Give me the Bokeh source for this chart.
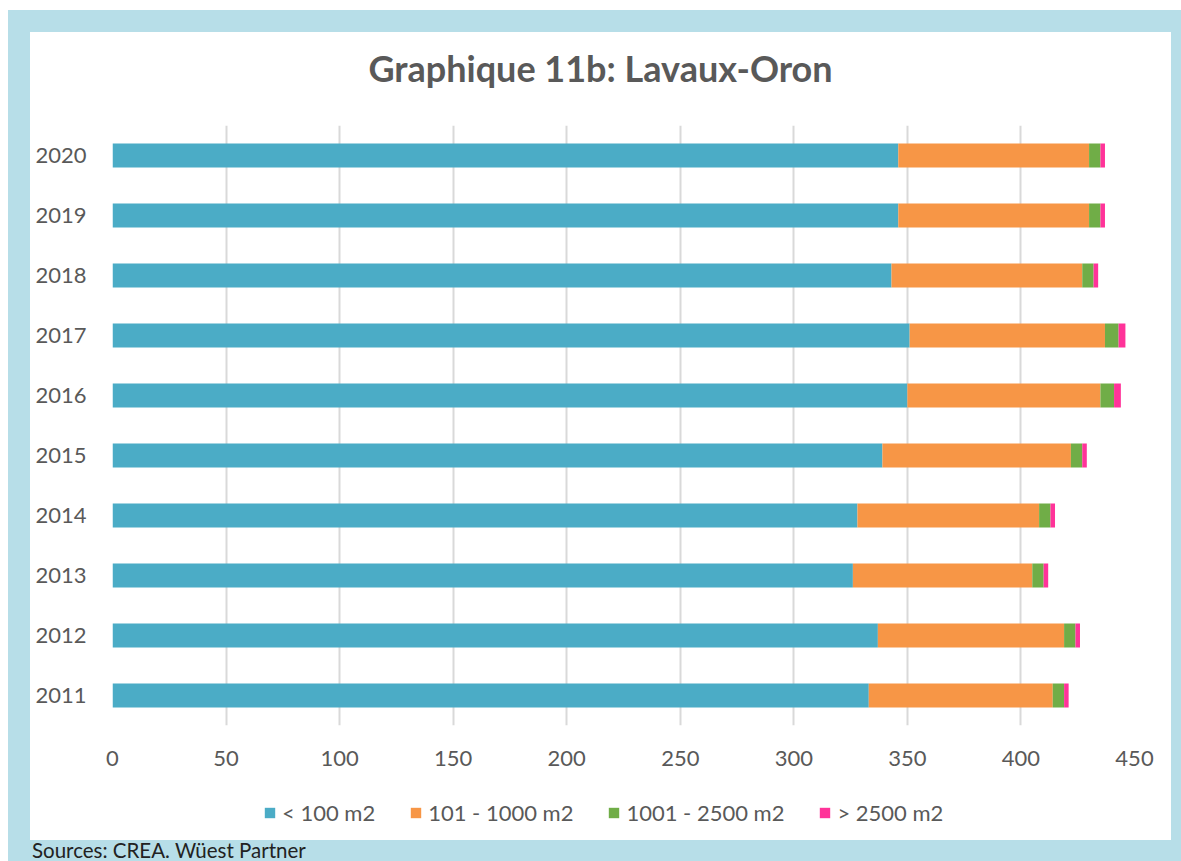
from bokeh.plotting import figure
from bokeh.models import ColumnDataSource, FactorRange, Range1d, Legend, LegendItem, Div, SingleIntervalTicker
from bokeh.layouts import column
from bokeh.embed import file_html
from bokeh.resources import INLINE

years = ["2011", "2012", "2013", "2014", "2015", "2016", "2017", "2018", "2019", "2020"]
lt100 = [333, 337, 326, 328, 339, 350, 351, 343, 346, 346]
s101_1000 = [81, 82, 79, 80, 83, 85, 86, 84, 84, 84]
s1001_2500 = [5, 5, 5, 5, 5, 6, 6, 5, 5, 5]
gt2500 = [2, 2, 2, 2, 2, 3, 3, 2, 2, 2]

series = ["lt100", "s101_1000", "s1001_2500", "gt2500"]
labels = ["< 100 m2", "101 - 1000 m2", "1001 - 2500 m2", "> 2500 m2"]
colors = ["#4BACC6", "#F79646", "#70AD47", "#FF3399"]
title_text = "Graphique 11b: Lavaux-Oron"
source_text = "Sources: CREA. Wüest Partner"

source = ColumnDataSource(dict(year=years, lt100=lt100, s101_1000=s101_1000,
                               s1001_2500=s1001_2500, gt2500=gt2500))

FONT = "Lato"
GRAY = "#595959"
WHITE_BG = {"background-color": "white"}

title = Div(text=f'<div style="text-align:center;font-family:Lato;font-weight:bold;'
                 f'font-size:36px;color:{GRAY};line-height:72px;width:1141px;">{title_text}</div>',
            width=1141, height=93, margin=(22, 10, 0, 22), styles=WHITE_BG)

p = figure(width=1141, height=660, y_range=FactorRange(factors=years),
           x_range=Range1d(0, 450), output_backend="svg", toolbar_location=None,
           min_border_left=82, min_border_right=37, min_border_top=0, min_border_bottom=60,
           margin=(0, 10, 0, 22), styles=WHITE_BG)

renderers = p.hbar_stack(series, y="year", height=0.4, color=colors, line_color=None, source=source)

p.outline_line_color = None
p.background_fill_color = "white"
p.border_fill_color = "white"

p.xaxis.ticker = SingleIntervalTicker(interval=50)
p.xaxis.axis_line_color = None
p.xaxis.major_tick_line_color = None
p.xaxis.minor_tick_line_color = None
p.xaxis.major_label_text_font = FONT
p.xaxis.major_label_text_font_size = "22px"
p.xaxis.major_label_text_color = GRAY
p.xaxis.major_label_standoff = 19

p.yaxis.axis_line_color = None
p.yaxis.major_tick_line_color = None
p.yaxis.minor_tick_line_color = None
p.yaxis.major_label_text_font = FONT
p.yaxis.major_label_text_font_size = "22px"
p.yaxis.major_label_text_color = GRAY
p.yaxis.major_label_standoff = 20

p.ygrid.grid_line_color = None
p.xgrid.grid_line_color = "#D9D9D9"
p.xgrid.grid_line_width = 2

# legend strip: same stacked bars as hidden renderers, used only for the legend swatches
pl = figure(width=1141, height=55, x_range=Range1d(0, 450), y_range=FactorRange(factors=years),
            x_axis_type=None, y_axis_type=None, output_backend="svg", toolbar_location=None,
            min_border=0, margin=(0, 10, 0, 22), styles=WHITE_BG)
pl.outline_line_color = None
pl.background_fill_color = "white"
pl.border_fill_color = "white"
pl.grid.visible = False
dummies = pl.hbar_stack(series, y="year", height=0.4, color=colors, line_color=None, source=source)
for r in dummies:
    r.visible = False

legend = Legend(items=[LegendItem(label=l, renderers=[r]) for l, r in zip(labels, dummies)],
                orientation="horizontal", location=(151, 14))
legend.glyph_width = 13
legend.glyph_height = 13
legend.label_text_font = FONT
legend.label_text_font_size = "22px"
legend.label_text_color = GRAY
legend.label_standoff = 6
legend.spacing = 34
legend.border_line_color = None
legend.background_fill_alpha = 0
legend.inactive_fill_alpha = 0
legend.margin = 0
legend.padding = 0
pl.add_layout(legend, "center")

src = Div(text=source_text, width=400, height=21,
          margin=(0, 0, 0, 24),
          styles={"font-size": "20.5px", "font-family": "Lato", "color": "#222222",
                  "line-height": "21px", "white-space": "nowrap"})

root = column(title, p, pl, src, styles={"background-color": "#B7DEE8"}, spacing=0,
              margin=(10, 0, 0, 8))

open("out.html", "w").write(file_html(root, INLINE))
